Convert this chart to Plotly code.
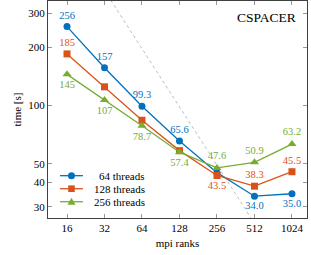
import plotly.graph_objects as go

# ---- data ----
ranks = [16, 32, 64, 128, 256, 512, 1024]
tick_labels = ["16", "32", "64", "128", "256", "512", "1024"]
t64 = [256, 157, 99.3, 65.6, 45.0, 34.0, 35.0]
t128 = [185, 125, 84.0, 58.5, 43.5, 38.3, 45.5]
t256 = [145, 107, 78.7, 57.4, 47.6, 50.9, 63.2]
series_names = ["64 threads", "128 threads", "256 threads"]
ideal_work = 12600  # time * ranks for ideal scaling line
ideal_x = [8, 16, 32, 64, 128, 256, 512, 1024, 2048]
y_ticks = [30, 40, 50, 100, 200, 300]

# which labels are shown, and where
show64 = [1, 1, 1, 1, 0, 1, 1]
pos64 = ["top center"] * 4 + ["top center", "bottom center", "bottom center"]
show128 = [1, 0, 0, 0, 1, 1, 1]
pos128 = ["top center"] * 4 + ["bottom center", "top center", "top center"]
show256 = [1, 1, 1, 1, 1, 1, 1]
pos256 = ["bottom center"] * 4 + ["top center"] * 3

def fmt(v):
    return f"{v:.0f}" if v >= 100 else f"{v:.1f}"

def labels(vals, show):
    return [fmt(v) if s else "" for v, s in zip(vals, show)]

BLUE = "#0072BD"
ORANGE = "#D95319"
GREEN = "#77AC30"
FONT = "Liberation Serif, Times New Roman, serif"

fig = go.Figure()

fig.add_trace(go.Scatter(
    x=ideal_x, y=[ideal_work / r for r in ideal_x], mode="lines",
    line=dict(color="#aaaaaa", width=0.8, dash="dot"), showlegend=False,
    hoverinfo="skip"))

series = [
    (series_names[0], t64, show64, pos64, BLUE, "circle", 7),
    (series_names[1], t128, show128, pos128, ORANGE, "square", 7),
    (series_names[2], t256, show256, pos256, GREEN, "triangle-up", 8),
]
for name, vals, show, pos, col, sym, ms in series:
    fig.add_trace(go.Scatter(
        x=ranks, y=vals, name=name, mode="lines+markers+text",
        text=labels(vals, show), textposition=pos,
        textfont=dict(color=col, size=10.5, family=FONT),
        line=dict(color=col, width=1.3),
        marker=dict(color=col, symbol=sym, size=ms),
        cliponaxis=False, showlegend=False))

# compact legend (pgfplots style) drawn with shapes + annotations
leg_rows = [0.195, 0.135, 0.075]
leg_x0, leg_x1, leg_xm, leg_text_x = 0.046, 0.135, 0.0907, 0.382
marker_paths = {
    "circle": None,
    "square": None,
    "triangle-up": "M-4,-3 L4,-3 L0,4 Z",
}
for (name, vals, show, pos, col, sym, ms), ly in zip(series, leg_rows):
    fig.add_shape(type="line", xref="paper", yref="paper",
                  x0=leg_x0, x1=leg_x1, y0=ly, y1=ly,
                  line=dict(color=col, width=1.3))
    common = dict(xref="paper", yref="paper", xsizemode="pixel",
                  ysizemode="pixel", xanchor=leg_xm, yanchor=ly,
                  fillcolor=col, line=dict(width=0))
    if sym == "circle":
        fig.add_shape(type="circle", x0=-3.5, x1=3.5, y0=-3.5, y1=3.5, **common)
    elif sym == "square":
        fig.add_shape(type="rect", x0=-3.3, x1=3.3, y0=-3.3, y1=3.3, **common)
    else:
        fig.add_shape(type="path", path=marker_paths[sym], **common)
    fig.add_annotation(text=name, xref="paper", yref="paper", x=leg_text_x,
                       y=ly, xanchor="right", yanchor="middle", showarrow=False,
                       font=dict(size=11, family=FONT, color="black"))

fig.add_annotation(
    text="CSPACER", xref="paper", yref="paper", x=0.965, y=0.925,
    xanchor="right", yanchor="middle", showarrow=False,
    font=dict(size=13.5, family=FONT, color="black"))

axis_common = dict(
    showline=True, linecolor="#404040", linewidth=1, mirror="ticks",
    ticks="inside", ticklen=4, tickcolor="#999999", showgrid=False,
    zeroline=False, tickfont=dict(size=11, family=FONT, color="black"))

fig.update_xaxes(
    type="log", range=[1.0515, 3.131], tickvals=ranks, ticktext=tick_labels,
    title=dict(text="mpi ranks", font=dict(size=11, family=FONT, color="black"),
               standoff=6),
    **axis_common)
fig.update_yaxes(
    type="log", range=[1.4187, 2.5407], tickvals=y_ticks,
    ticktext=[str(v) for v in y_ticks],
    title=dict(text="time [s]", font=dict(size=11, family=FONT, color="black"),
               standoff=4),
    **axis_common)

fig.update_layout(
    width=311, height=255,
    margin=dict(l=48, r=4, t=1, b=37),
    paper_bgcolor="white", plot_bgcolor="white",
    font=dict(family=FONT, size=11, color="black"),
    showlegend=False,
)

fig.write_html("out.html", config={"displayModeBar": False},
               post_script="document.body.style.margin='0';")
